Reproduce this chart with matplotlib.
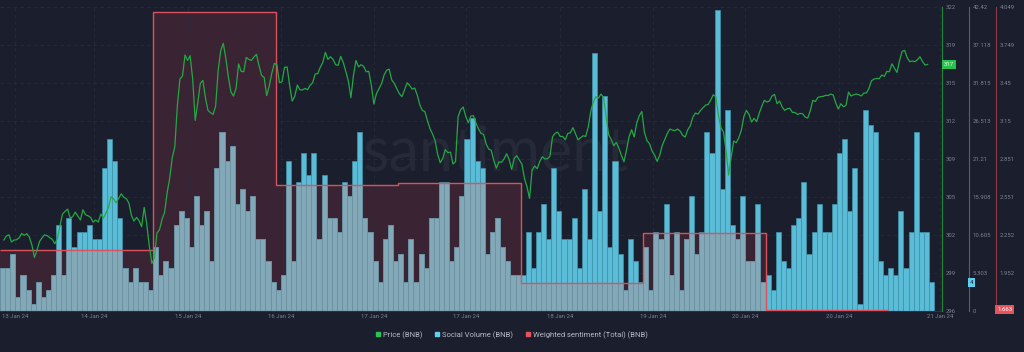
import numpy as np
import matplotlib.pyplot as plt
import matplotlib.transforms as mtrans
from matplotlib.lines import Line2D

# hourly social volume (BNB), 13 Jan 24 -> 21 Jan 24
social_volume = [
    6, 6, 8, 2, 5, 3, 1, 4, 2, 3, 5, 12, 5, 13, 9, 11, 11, 12, 10, 10,
    20, 24, 21, 13, 6, 4, 6, 4, 4, 3, 9, 5, 7, 6, 12, 14, 13, 9, 16, 12,
    14, 7, 20, 25, 21, 23, 15, 17, 14, 16, 10, 10, 7, 4, 3, 5, 21, 7, 18, 22,
    19, 22, 10, 19, 13, 13, 11, 18, 16, 21, 25, 13, 11, 7, 4, 10, 12, 7, 8, 4,
    10, 4, 8, 6, 13, 13, 18, 18, 7, 9, 16, 24, 27, 21, 20, 8, 11, 13, 9, 7,
    5, 5, 5, 11, 6, 11, 15, 10, 20, 14, 10, 10, 13, 6, 17, 10, 36, 14, 30, 9,
    21, 8, 3, 10, 7, 4, 9, 3, 11, 10, 15, 5, 11, 3, 10, 16, 8, 11, 25, 22,
    42, 17, 28, 12, 10, 16, 7, 7, 15, 4, 5, 3, 11, 7, 6, 12, 13, 18, 8, 11,
    15, 11, 11, 15, 22, 24, 14, 20, 1, 28, 26, 25, 7, 5, 6, 5, 14, 6, 11, 25,
    11, 11, 4,
]

# BNB price, half-hour samples starting 0.75 h after the first bar
price_start = 0.75
price_step = 0.5
price = [
    302.16, 302.51, 302.62, 301.99, 302.16, 302.19, 302.36, 302.74, 302.57, 302.71,
    302.42, 301.73, 300.65, 301.29, 302.04, 302.36, 302.62, 302.54, 302.36, 302.22,
    301.84, 302.30, 303.41, 304.42, 304.65, 304.85, 304.07, 304.19, 304.59, 304.24,
    303.90, 304.79, 304.36, 304.27, 304.13, 303.72, 303.90, 303.72, 304.42, 304.07,
    304.51, 305.00, 305.92, 305.75, 305.40, 305.78, 306.18, 305.89, 305.75, 305.37,
    304.30, 303.81, 304.13, 303.84, 303.32, 305.00, 303.55, 301.64, 300.13, 300.60,
    302.77, 303.06, 303.96, 304.56, 306.27, 307.54, 309.31, 310.27, 313.83, 316.14,
    316.40, 318.23, 317.76,
    318.17, 316.14, 312.55, 314.09, 315.77, 316.03, 314.52, 313.42, 313.22, 313.07,
    313.80, 316.92, 318.63, 319.24, 317.94, 316.29, 315.01, 314.67, 315.33, 317.45,
    316.81, 316.78, 318.02, 317.85, 317.76, 318.05, 318.29, 317.30, 316.46, 316.29,
    314.70, 315.54, 316.64, 317.50, 317.39, 315.82, 315.91, 317.16, 317.19, 315.59,
    314.23, 314.64, 315.62, 315.22, 315.19, 315.33, 315.22, 315.59, 315.82, 316.58,
    316.61, 317.16, 317.59, 318.46, 317.85, 318.08, 317.85, 317.39, 317.33, 318.11,
    317.59, 316.81, 315.97, 314.52, 316.46, 317.76, 317.19, 317.39, 317.24, 316.78,
    316.81, 315.62,
    313.97, 314.87, 315.30, 315.74, 316.49, 316.90, 317.01, 316.06, 315.77, 315.30,
    314.87, 314.61, 315.19, 315.82, 315.59, 315.27, 315.36, 314.75, 313.91, 313.42,
    313.31, 312.52, 311.83, 311.37, 310.79, 309.60, 308.88, 309.25, 310.01, 309.75,
    309.80, 308.76, 308.96, 312.87, 313.48, 313.71, 312.90, 312.35, 312.93, 312.96,
    312.32, 311.80, 311.42, 311.34, 310.50, 310.06, 309.95, 309.05, 308.41, 308.96,
    308.91, 309.20, 309.66, 309.17, 308.30, 309.25, 309.48, 309.11, 308.76, 307.52,
    306.79, 305.78, 308.24, 308.59, 308.36, 308.99, 309.40, 309.20, 309.22, 309.43,
    311.13, 311.42, 311.54,
    311.16, 311.16, 310.87, 311.42, 311.48, 311.92, 311.40, 310.87, 311.05, 311.22,
    311.16, 311.97, 313.36, 314.17, 314.61, 314.49, 314.84, 314.55, 312.87, 311.31,
    310.90, 310.35, 310.64, 310.15, 309.51, 308.96, 309.98, 311.13, 311.74, 311.11,
    312.32, 312.96, 313.33, 311.54, 310.79, 310.53, 309.89, 309.54, 308.99, 309.51,
    310.38, 310.90, 311.42, 311.80, 311.71, 311.66, 311.80, 311.63, 311.25, 311.11,
    311.74, 312.09, 312.84, 313.19, 313.10, 313.42, 313.65, 313.88, 313.94, 314.32,
    314.78, 314.61, 313.02, 311.92, 311.54, 309.95, 307.81, 309.34, 310.76, 310.61,
    311.05, 311.71,
    312.90, 313.42, 313.07, 312.41, 312.73, 312.44, 313.19, 313.77, 314.29, 314.15,
    314.23, 314.67, 314.81, 314.00, 314.23, 313.71, 313.42, 313.57, 313.60, 313.25,
    313.25, 313.07, 313.16, 313.13, 312.84, 312.76, 313.39, 314.29, 314.20, 314.55,
    314.61, 314.64, 314.72, 314.72, 314.84, 314.75, 314.06, 313.54, 314.00, 313.74,
    313.86, 315.01, 314.67, 314.78, 314.84, 314.78, 314.67, 314.93, 314.93, 315.33,
    316.00, 316.14, 316.20, 316.17, 316.49, 316.37, 316.81, 316.78, 317.47, 317.07,
    316.72, 317.76, 318.55, 318.63, 318.00, 317.65, 317.71, 317.65, 317.82, 318.08,
    317.65, 317.36, 317.42,
]

# weighted sentiment (total), one value per day
sentiment_edges = [0, 30, 54, 78, 102, 126, 150, 174]
sentiment = [2.133, 4.007, 2.645, 2.664, 1.870, 2.265, 1.663]

date_ticks = [2.9, 18.4, 36.8, 55.1, 73.3, 91.3, 109.7, 127.9, 146.0, 164.4, 184.2]
date_labels = ["13 Jan 24", "14 Jan 24", "15 Jan 24", "16 Jan 24", "17 Jan 24",
               "17 Jan 24", "18 Jan 24", "19 Jan 24", "20 Jan 24", "20 Jan 24",
               "21 Jan 24"]

price_range = (296.0, 322.4)
volume_range = (0.0, 42.42)
sentiment_range = (1.652, 4.049)
price_labels = ["296", "299", "302", "305", "309", "312", "315", "319", "322"]
volume_labels = ["0", "5.303", "10.605", "15.908", "21.21", "26.513", "31.815",
                 "37.118", "42.42"]
sentiment_labels = ["1.652", "1.952", "2.252", "2.551", "2.851", "3.15", "3.45",
                    "3.749", "4.049"]

BG = '#1b1e2c'
GREEN = '#24a844'
CYAN = '#5bbcd8'
RED = '#dc525c'
TICK = '#7c8294'

plt.rcParams['font.family'] = ['Roboto', 'DejaVu Sans']

fig = plt.figure(figsize=(10.24, 3.52), dpi=100, facecolor=BG)
ax = fig.add_axes([0, 41 / 352, 942 / 1024, 304 / 352], facecolor=BG)
ax_p = ax.twinx()
ax_s = ax.twinx()

# sentiment area sits under the bars, its outline above them
fill = ax.stairs(sentiment, sentiment_edges, baseline=sentiment_range[0],
                 fill=True, color='#3a2332', lw=0, zorder=0.3,
                 transform=ax_s.transData)

hours = np.arange(len(social_volume))
ax.bar(hours, social_volume, width=1, align='edge', color=CYAN,
       edgecolor='#3f93ad', linewidth=0.5, zorder=2)
grey = ax.bar(hours, social_volume, width=1, align='edge', color='#83a9b9',
              edgecolor='#6a8f9f', linewidth=0.5, zorder=2.1)
for b in grey:
    b.set_clip_path(fill)

ax.stairs(sentiment, sentiment_edges, baseline=None, color=RED, lw=1.0,
          zorder=3, transform=ax_s.transData)

t = price_start + price_step * np.arange(len(price))
ax_p.plot(t, price, color=GREEN, lw=0.9)

ax.text(0.527, 0.52, 'santiment', transform=ax.transAxes, fontsize=44,
        color='#252938', ha='center', va='center', zorder=0.4,
        family=['Lato', 'DejaVu Sans'])

# axes and scales
ax.set_xlim(0, 942 / 5.104)
ax.set_ylim(*volume_range)
ax_p.set_ylim(*price_range)
ax_s.set_ylim(*sentiment_range)

for a in (ax, ax_p, ax_s):
    for s in ('top', 'left'):
        a.spines[s].set_visible(False)
ax_p.spines['bottom'].set_visible(False)
ax_s.spines['bottom'].set_visible(False)
ax.spines['bottom'].set_color('#2c3042')

ax.yaxis.tick_right()
ax.spines['right'].set_position(('axes', 969 / 942))
ax_s.spines['right'].set_position(('axes', 996 / 942))
ax_p.spines['right'].set_color('#1e8a3a')
ax.spines['right'].set_color('#3a6b82')
ax_s.spines['right'].set_color('#8c3c46')

ax_p.set_yticks(np.linspace(*price_range, 9), price_labels)
ax.set_yticks(np.linspace(*volume_range, 9), volume_labels)
ax_s.set_yticks(np.linspace(*sentiment_range, 9), sentiment_labels)
for a in (ax, ax_p, ax_s):
    a.tick_params(axis='y', length=0, pad=2.5, labelsize=4.3, labelcolor=TICK)

ax.set_xticks(date_ticks, date_labels)
ax.tick_params(axis='x', length=0, pad=2.5, labelsize=4.3, labelcolor=TICK)

ax.set_axisbelow(True)
ax.grid(True, color='#272b3b', lw=0.6, ls=(0, (4, 4)))

# last-value tags on each scale
tags = [
    (ax_p, 1.002, price[-1], f"{price[-1]:.0f}", '#27c24c', '#e6ffe9'),
    (ax, 970 / 942, social_volume[-1], f"{social_volume[-1]}", '#5fd0ef', '#1b1e2c'),
    (ax_s, 997 / 942, sentiment[-1], f"{sentiment[-1]:.3f}", '#e5535d', '#ffffff'),
]
for a, xa, yv, txt, fc, tc in tags:
    tr = mtrans.blended_transform_factory(a.transAxes, a.transData)
    a.text(xa, yv, txt, transform=tr, ha='left', va='center', fontsize=4.3,
           color=tc, clip_on=False, zorder=5,
           bbox=dict(boxstyle='square,pad=0.3', fc=fc, ec='none'))

handles = [Line2D([], [], marker='s', ls='', color=c, markersize=3.2)
           for c in ('#2bc452', '#5fd0ef', '#e5535d')]
fig.legend(handles, ['Price (BNB)', 'Social Volume (BNB)',
                     'Weighted sentiment (Total) (BNB)'],
           loc='center', bbox_to_anchor=(0.4995, 1 - 335 / 352), ncol=3,
           frameon=False, fontsize=5.5, handletextpad=0.25, columnspacing=1.5,
           handlelength=0.8, labelcolor='#b7bcc8')

fig.savefig('out.png', dpi=100, facecolor=BG)
